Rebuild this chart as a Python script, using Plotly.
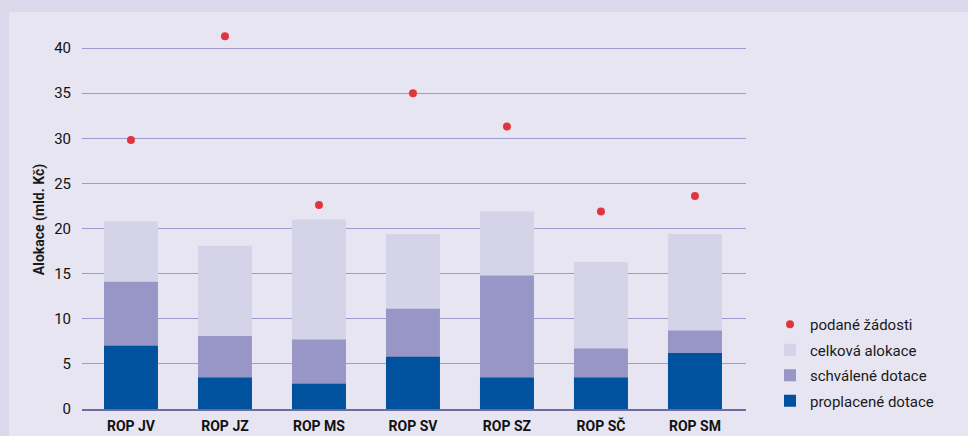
import plotly.graph_objects as go

categories = ["ROP JV", "ROP JZ", "ROP MS", "ROP SV", "ROP SZ", "ROP SČ", "ROP SM"]
proplacene = [7.0, 3.5, 2.8, 5.8, 3.5, 3.5, 6.2]
schvalene = [14.1, 8.1, 7.7, 11.1, 14.8, 6.7, 8.7]
celkova = [20.8, 18.1, 21.0, 19.4, 21.9, 16.3, 19.4]
podane = [29.8, 41.3, 22.6, 35.0, 31.3, 21.9, 23.6]
y_ticks = [0, 5, 10, 15, 20, 25, 30, 35, 40]

FONT = "Roboto"
BG = "#e7e5f2"
FRAME = "#dad8ea"

fig = go.Figure()
fig.add_trace(go.Scatter(x=categories, y=podane, mode="markers", name="podané žádosti",
                         marker=dict(color="#e0353c", size=8), legendgroup="a"))
fig.add_trace(go.Bar(x=categories, y=celkova, name="celková alokace",
                     marker=dict(color="#d5d3e8", line=dict(width=0)), legendgroup="b"))
fig.add_trace(go.Bar(x=categories, y=schvalene, name="schválené dotace",
                     marker=dict(color="#9896c6", line=dict(width=0)), legendgroup="c"))
fig.add_trace(go.Bar(x=categories, y=proplacene, name="proplacené dotace",
                     marker=dict(color="#00529f", line=dict(width=0)), legendgroup="d"))

ML, MR, MT, MB = 82, 222, 30, 27
PW = 968 - ML - MR
PH = 436 - MT - MB

def px_x(px):
    return (px - ML) / PW

def px_y(py):
    return (436 - MB - py) / PH

fig.update_layout(
    width=968, height=436,
    margin=dict(l=ML, r=MR, t=MT, b=MB, autoexpand=False),
    paper_bgcolor=BG, plot_bgcolor=BG,
    barmode="overlay", bargap=0.426,
    font=dict(family=FONT, size=15, color="#1a1a1a"),
    showlegend=True,
    legend=dict(x=px_x(770), xanchor="left", y=px_y(417), yanchor="bottom",
                bgcolor="rgba(0,0,0,0)", font=dict(size=15, family=FONT),
                tracegroupgap=3, itemwidth=30),
    xaxis=dict(range=[-0.521, 6.543], showgrid=False, showline=True,
               linecolor="#6e6c9c", linewidth=1.5,
               tickfont=dict(family=FONT, size=14, color="#111"),
               ticks="", ticklabelstandoff=3),
    yaxis=dict(range=[0, 42], tickvals=y_ticks, showgrid=True, gridcolor="#9d9bcb",
               gridwidth=1, zeroline=False, showline=False,
               tickfont=dict(family=FONT, size=15, color="#111"),
               ticklabelstandoff=10,
               title=dict(text="<b>Alokace (mld. Kč)</b>", font=dict(size=14, family=FONT),
                          standoff=6)),
    shapes=[
        dict(type="rect", xref="paper", yref="paper", x0=px_x(0), x1=px_x(968),
             y0=px_y(12), y1=px_y(0), fillcolor=FRAME, line=dict(width=0)),
        dict(type="rect", xref="paper", yref="paper", x0=px_x(0), x1=px_x(9),
             y0=px_y(436), y1=px_y(0), fillcolor=FRAME, line=dict(width=0)),
    ],
)
fig.update_xaxes(tickvals=categories, ticktext=["<b>%s</b>" % c for c in categories])

fig.write_html("out.html", config={"displayModeBar": False},
               post_script="document.body.style.margin='0';document.body.style.overflow='hidden';")
